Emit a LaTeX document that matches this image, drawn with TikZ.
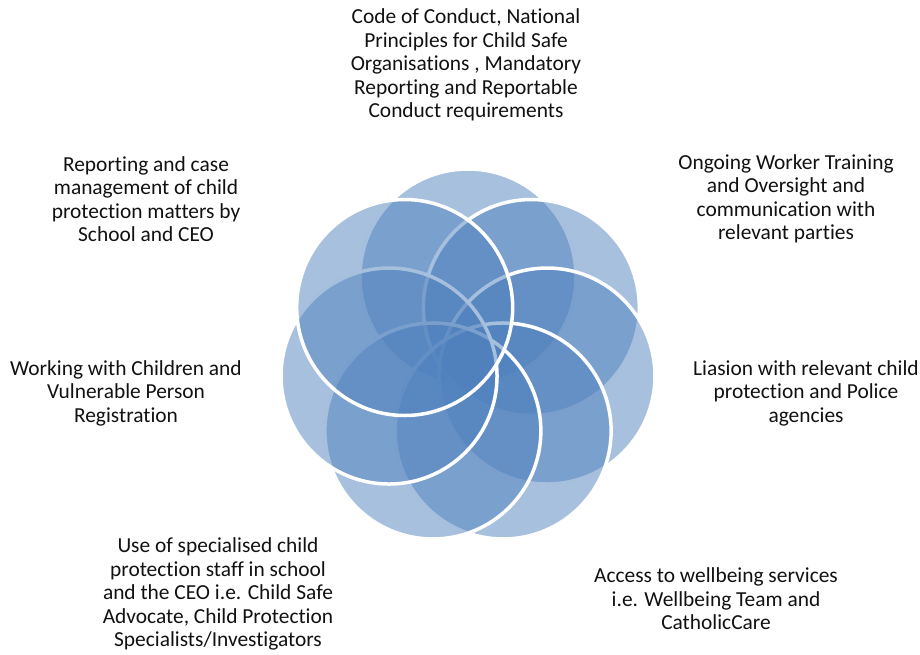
\documentclass[tikz,border=0pt]{standalone}
\usepackage{fontspec}
\usetikzlibrary{calc}
\setmainfont{Carlito}[Ligatures=NoCommon]
\definecolor{petal}{HTML}{4F81BD}
\definecolor{txt}{HTML}{111111}
\begin{document}
\begin{tikzpicture}[x=1pt,y=-1pt,
  petalc/.style={circle, minimum size=216pt, inner sep=0pt, fill=petal, fill opacity=0.5, draw=white, draw opacity=1, line width=3.5pt},
  lbl/.style={align=center, inner sep=0pt, text=txt, font=\fontsize{21.4}{23.5}\selectfont}]
\useasboundingbox (0,0) rectangle (920,654);
\coordinate (ctr) at (468,358);
\foreach \i/\a in {1/90,2/38.57,3/-12.86,4/-64.29,5/-115.71,6/-167.14,7/141.43}{
  \node[petalc] (c\i) at ($(ctr)+(\a:81 and -81)$) {};
}
\node[lbl] (t1) at (466,65) {Code of Conduct, National\\Principles for Child Safe\\Organisations , Mandatory\\Reporting and Reportable\\Conduct requirements};
\node[lbl] (t2) at (786,199) {Ongoing Worker Training\\and Oversight and\\communication with\\relevant parties};
\node[lbl] (t3) at (806,393) {Liasion with relevant child\\protection and Police\\agencies};
\node[lbl] (t4) at (716,599) {Access to wellbeing services\\i.e. Wellbeing Team and\\CatholicCare};
\node[lbl] (t5) at (218,594) {Use of specialised child\\protection staff in school\\and the CEO i.e. Child Safe\\Advocate, Child Protection\\Specialists/Investigators};
\node[lbl] (t6) at (126,393) {Working with Children and\\Vulnerable Person\\Registration};
\node[lbl] (t7) at (146,199) {Reporting and case\\management of child\\protection matters by\\School and CEO};
\end{tikzpicture}
\end{document}
